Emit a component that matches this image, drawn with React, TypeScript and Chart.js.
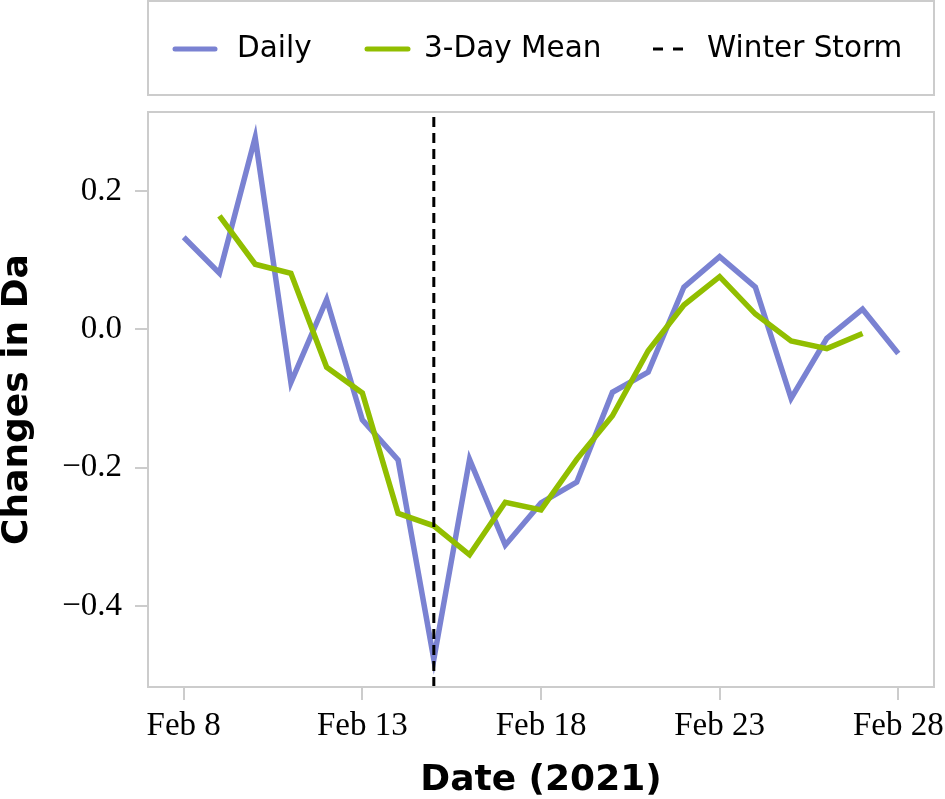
import React, { useEffect, useRef } from "react";
import { Chart, registerables } from "chart.js";

Chart.register(...registerables);

// ---- Data ----
const dailyDays = [8, 9, 10, 11, 12, 13, 14, 15, 16, 17, 18, 19, 20, 21, 22, 23, 24, 25, 26, 27, 28];
const dailyValues = [
  0.133, 0.081, 0.277, -0.077, 0.043, -0.131, -0.189, -0.477, -0.188, -0.312, -0.251,
  -0.221, -0.091, -0.062, 0.061, 0.105, 0.061, -0.1, -0.013, 0.029, -0.035,
];
const meanDays = [9, 10, 11, 12, 13, 14, 15, 16, 17, 18, 19, 20, 21, 22, 23, 24, 25, 26, 27];
const meanValues = [
  0.164, 0.094, 0.081, -0.055, -0.092, -0.266, -0.284, -0.326, -0.25, -0.261, -0.188,
  -0.125, -0.031, 0.035, 0.076, 0.022, -0.017, -0.028, -0.006,
];
const stormDay = 15;
const xTickDays = [8, 13, 18, 23, 28];
const xTickLabels = ["Feb 8", "Feb 13", "Feb 18", "Feb 23", "Feb 28"];
const yTickValues = [-0.4, -0.2, 0, 0.2];
const yTickLabels = ["\u22120.4", "\u22120.2", "0.0", "0.2"];
const xRange = [7, 29];
const yRange = [-0.517, 0.314];
const seriesNames = ["Daily", "3-Day Mean", "Winter Storm"];

const DAILY_COLOR = "#7A82D2";
const MEAN_COLOR = "#91BE00";
const FRAME_COLOR = "#cccccc";
const SANS = '"DejaVu Sans", Verdana, sans-serif';
const SERIF = '"Liberation Serif", "Times New Roman", serif';

const framePlugin = {
  id: "frameAndLegend",
  afterDraw(chart: any) {
    const { ctx, chartArea } = chart;
    ctx.save();
    // plot frame
    ctx.strokeStyle = FRAME_COLOR;
    ctx.lineWidth = 2;
    ctx.strokeRect(chartArea.left, chartArea.top, chartArea.right - chartArea.left, chartArea.bottom - chartArea.top);
    // legend box
    const boxTop = 1;
    const boxBottom = 95;
    ctx.strokeRect(chartArea.left, boxTop, chartArea.right - chartArea.left, boxBottom - boxTop);
    const cy = (boxTop + boxBottom) / 2 + 1;
    const items = [
      { name: seriesNames[0], color: DAILY_COLOR, width: 5, dash: [] as number[], x: 25, len: 44, tx: 89 },
      { name: seriesNames[1], color: MEAN_COLOR, width: 5, dash: [] as number[], x: 217, len: 45, tx: 276 },
      { name: seriesNames[2], color: "#000000", width: 3, dash: [10, 10], x: 505, len: 30, tx: 559 },
    ];
    ctx.font = `29.5px ${SANS}`;
    ctx.textBaseline = "middle";
    ctx.textAlign = "left";
    for (const it of items) {
      const x0 = chartArea.left + it.x;
      ctx.beginPath();
      ctx.setLineDash(it.dash);
      ctx.lineCap = it.dash.length ? "butt" : "round";
      ctx.strokeStyle = it.color;
      ctx.lineWidth = it.width;
      ctx.moveTo(x0 + (it.dash.length ? 0 : 2), cy);
      ctx.lineTo(x0 + it.len - (it.dash.length ? 0 : 2), cy);
      ctx.stroke();
      ctx.setLineDash([]);
      ctx.fillStyle = "#000";
      ctx.fillText(it.name, chartArea.left + it.tx, cy);
    }
    ctx.restore();
  },
};

export default function App() {
  const canvasRef = useRef<HTMLCanvasElement | null>(null);

  useEffect(() => {
    document.body.style.margin = "0";
    const canvas = canvasRef.current;
    if (!canvas) return;
    const chart = new Chart(canvas, {
      type: "line",
      data: {
        datasets: [
          {
            label: seriesNames[0],
            data: dailyDays.map((d, i) => ({ x: d, y: dailyValues[i] })),
            borderColor: DAILY_COLOR,
            backgroundColor: DAILY_COLOR,
            borderWidth: 5.5,
            pointRadius: 0,
            tension: 0,
            fill: false,
            order: 3,
          },
          {
            label: seriesNames[1],
            data: meanDays.map((d, i) => ({ x: d, y: meanValues[i] })),
            borderColor: MEAN_COLOR,
            backgroundColor: MEAN_COLOR,
            borderWidth: 5.5,
            pointRadius: 0,
            tension: 0,
            fill: false,
            order: 2,
          },
          {
            label: seriesNames[2],
            data: [
              { x: stormDay, y: yRange[0] },
              { x: stormDay, y: yRange[1] },
            ],
            borderColor: "#000000",
            borderWidth: 3,
            borderDash: [10, 6],
            pointRadius: 0,
            fill: false,
            order: 1,
          },
        ],
      },
      options: {
        responsive: false,
        animation: false,
        events: [],
        layout: { padding: { top: 112, right: 11, left: 0, bottom: 0 } },
        plugins: {
          legend: { display: false },
          tooltip: { enabled: false },
        },
        scales: {
          x: {
            type: "linear",
            min: xRange[0],
            max: xRange[1],
            afterBuildTicks: (scale: any) => {
              scale.ticks = xTickDays.map((v) => ({ value: v }));
            },
            afterFit: (scale: any) => {
              scale.height = 112;
              scale.paddingLeft = 0;
              scale.paddingRight = 0;
            },
            ticks: {
              callback: (_v: any, i: number) => xTickLabels[i],
              font: { family: SERIF, size: 33 },
              color: "#000",
              padding: 7,
              maxRotation: 0,
              autoSkip: false,
            },
            grid: {
              drawOnChartArea: false,
              drawTicks: true,
              tickLength: 13,
              color: FRAME_COLOR,
              lineWidth: 2,
            },
            border: { display: false },
            title: {
              display: true,
              text: "Date (2021)",
              font: { family: SANS, size: 36, weight: "bold", lineHeight: 1 },
              color: "#000",
              padding: { top: 0, bottom: 0 },
            },
          },
          y: {
            type: "linear",
            min: yRange[0],
            max: yRange[1],
            afterBuildTicks: (scale: any) => {
              scale.ticks = yTickValues.map((v) => ({ value: v }));
            },
            afterFit: (scale: any) => {
              scale.width = 148;
              scale.paddingTop = 0;
              scale.paddingBottom = 0;
            },
            ticks: {
              callback: (_v: any, i: number) => yTickLabels[i],
              font: { family: SERIF, size: 33 },
              color: "#000",
              padding: 13,
              autoSkip: false,
            },
            grid: {
              drawOnChartArea: false,
              drawTicks: true,
              tickLength: 13,
              color: FRAME_COLOR,
              lineWidth: 2,
            },
            border: { display: false },
            title: {
              display: true,
              text: "Changes in Da",
              font: { family: SANS, size: 36, weight: "bold", lineHeight: 1 },
              color: "#000",
              padding: { top: 0, bottom: 0 },
            },
          },
        },
      },
      plugins: [framePlugin],
    });
    return () => chart.destroy();
  }, []);

  return (
    <div style={{ width: 945, height: 799 }}>
      <canvas ref={canvasRef} width={945} height={799} style={{ display: "block" }} />
    </div>
  );
}
